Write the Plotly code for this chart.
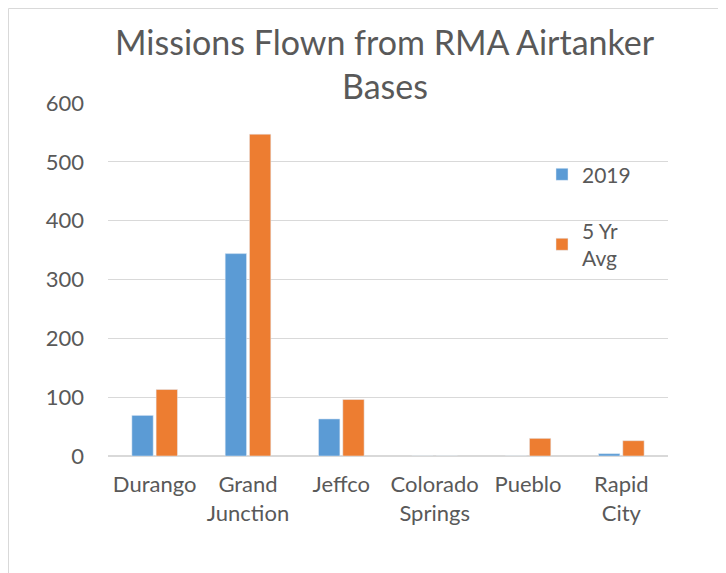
import plotly.graph_objects as go

categories = ["Durango", "Grand<br>Junction", "Jeffco", "Colorado<br>Springs", "Pueblo", "Rapid<br>City"]
values_2019 = [69, 344, 63, 0, 0, 4]
values_5yr = [113, 547, 96, 0, 30, 26]
y_ticks = [0, 100, 200, 300, 400, 500, 600]
title_lines = ["Missions Flown from RMA Airtanker", "Bases"]

FONT = "Lato, Open Sans, sans-serif"
GREY = "#595959"

fig = go.Figure()
fig.add_trace(go.Bar(name="2019", x=categories, y=values_2019,
                     marker=dict(color="#5B9BD5"), legendgroup="a"))
fig.add_trace(go.Bar(name="5 Yr<br>Avg", x=categories, y=values_5yr,
                     marker=dict(color="#ED7D31"), legendgroup="b"))

fig.update_layout(
    width=718, height=565,
    margin=dict(l=100, r=58, t=95, b=117, autoexpand=False),
    paper_bgcolor="white", plot_bgcolor="white",
    font=dict(family=FONT, color=GREY, size=22),
    barmode="group", bargap=0.48, bargroupgap=0.12,
    legend=dict(x=0.775, y=0.855, xanchor="left", yanchor="top",
                bgcolor="rgba(0,0,0,0)", font=dict(size=21, color=GREY),
                tracegroupgap=26, traceorder="grouped"),
    xaxis=dict(showgrid=False, ticks="", showline=False, automargin=False,
               tickfont=dict(size=22, color=GREY), ticklabelstandoff=13),
    yaxis=dict(range=[0, 600], tickvals=y_ticks, showgrid=True, automargin=False,
               gridcolor="#d9d9d9", gridwidth=1, zeroline=True,
               zerolinecolor="#d9d9d9", zerolinewidth=2,
               tickfont=dict(size=22, color=GREY), ticks="",
               ticklabelstandoff=23),
    shapes=[dict(type="rect", xref="paper", yref="paper",
                 x0=-0.1777, x1=1.0929, y0=-0.35, y1=1.2677,
                 line=dict(color="#d9d9d9", width=1))],
    annotations=[
        dict(text=title_lines[0], xref="paper", yref="paper", x=0.495, y=1.1756,
             xanchor="center", yanchor="middle", showarrow=False,
             font=dict(size=34, color=GREY, family=FONT)),
        dict(text=title_lines[1], xref="paper", yref="paper", x=0.495, y=1.05,
             xanchor="center", yanchor="middle", showarrow=False,
             font=dict(size=34, color=GREY, family=FONT)),
    ],
)

fig.write_html("out.html")
